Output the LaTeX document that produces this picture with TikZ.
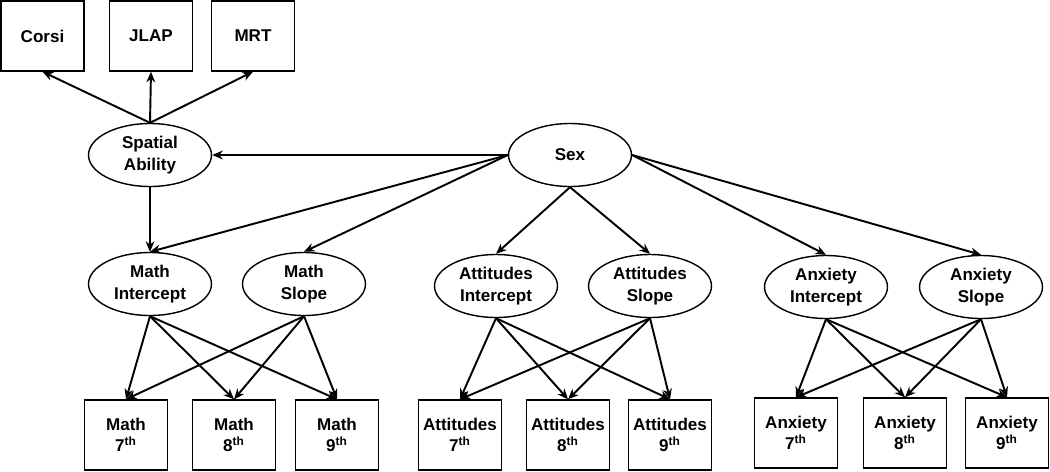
\documentclass[tikz,border=0pt]{standalone}
\usepackage{fontspec}
\setmainfont{Liberation Sans}
\usetikzlibrary{shapes.geometric,arrows.meta}

\begin{document}
\begin{tikzpicture}[x=0.02cm,y=-0.02cm,
  font=\fontsize{9.7}{12.3}\selectfont\bfseries,
  obs/.style={draw,line width=0.8pt,minimum width=1.66cm,minimum height=1.4cm,align=center,inner sep=0pt},
  lat/.style={draw,ellipse,line width=0.8pt,minimum width=2.46cm,minimum height=1.26cm,align=center,inner sep=0pt},
  path/.style={-{Stealth[length=6pt,width=5pt]},line width=1.1pt}]
\useasboundingbox (0,0) rectangle (1050,471);
% Spatial indicators
\node[obs] (corsi) at (42.5,36) {Corsi};
\node[obs] (jlap) at (151,36) {JLAP};
\node[obs] (mrt) at (253,36) {MRT};
% Latent factors
\node[lat] (spatial) at (150,155) {Spatial\\Ability};
\node[lat] (sex) at (570,155) {Sex};
\node[lat] (mathI) at (150,284) {Math\\Intercept};
\node[lat] (mathS) at (304,284) {Math\\Slope};
\node[lat] (attI) at (496,286) {Attitudes\\Intercept};
\node[lat] (attS) at (650,286) {Attitudes\\Slope};
\node[lat] (anxI) at (826,287) {Anxiety\\Intercept};
\node[lat] (anxS) at (981,287) {Anxiety\\Slope};
% Grade observations
\foreach \n/\x in {7/126,8/234,9/337}
  \node[obs] (math\n) at (\x,435) {Math\\\n\textsuperscript{th}};
\foreach \n/\x in {7/460,8/568,9/670}
  \node[obs] (att\n) at (\x,435) {Attitudes\\\n\textsuperscript{th}};
\foreach \n/\x in {7/796,8/905,9/1007}
  \node[obs] (anx\n) at (\x,433) {Anxiety\\\n\textsuperscript{th}};
% Paths
\foreach \t in {corsi,jlap,mrt}
  \draw[path] (spatial.north) -- (\t.south);
\draw[path] (sex.west) -- (spatial.east);
\draw[path] (spatial.south) -- (mathI.north);
\foreach \t in {mathI,mathS}
  \draw[path] (sex.west) -- (\t.north);
\foreach \t in {attI,attS}
  \draw[path] (sex.south) -- (\t.north);
\foreach \t in {anxI,anxS}
  \draw[path] (sex.east) -- (\t.north);
\foreach \g in {math,att,anx}
  \foreach \s in {I,S}
    \foreach \n in {7,8,9}
      \draw[path] (\g\s.south) -- (\g\n.north);
\end{tikzpicture}
\end{document}
